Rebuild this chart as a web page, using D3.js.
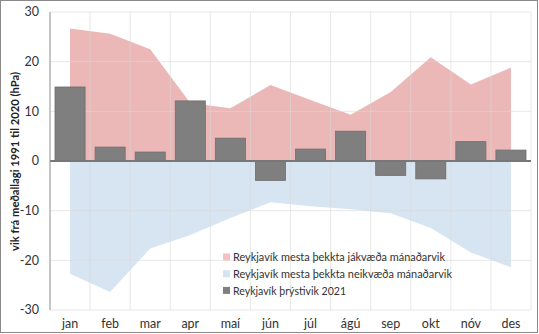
<!DOCTYPE html>
<html><head><meta charset="utf-8">
<script src="https://cdn.jsdelivr.net/npm/d3@7"></script>
<style>body{margin:0;background:#fff}svg{display:block}</style>
</head><body>
<svg id="c" width="539" height="334"></svg>
<script>
const months = ["jan","feb","mar","apr","maí","jún","júl","ágú","sep","okt","nóv","des"];
const posMax = [26.7,25.6,22.5,11.7,10.6,15.3,12.3,9.3,13.9,20.9,15.4,18.8];
const negMin = [-22.7,-26.4,-17.6,-14.9,-11.5,-8.3,-9.1,-9.7,-10.5,-13.5,-18.4,-21.4];
const dev2021 = [14.9,2.8,1.8,12.1,4.6,-3.9,2.4,6.0,-2.9,-3.6,3.9,2.2];
const yTicks = [-30,-20,-10,0,10,20,30];
const legendLabels = ["Reykjavík mesta þekkta jákvæða mánaðarvik","Reykjavík mesta þekkta neikvæða mánaðarvik","Reykjavík þrýstivik 2021"];

const svg = d3.select("#c");
const font = "Lato, 'Open Sans', sans-serif";
const L=50, R=531, T=12, B=310;
const x = d3.scaleBand().domain(months).range([L,R]).paddingInner(0.25).paddingOuter(0.125);
const xc = m => x(m)+x.bandwidth()/2;
const y = d3.scaleLinear().domain([-30,30]).range([B,T]);

function fit(sel, w){
  sel.each(function(){
    const len = this.getComputedTextLength();
    if (len > w) d3.select(this).attr("textLength", w).attr("lengthAdjust","spacingAndGlyphs");
  });
}

svg.append("rect").attr("x",0.5).attr("y",0.5).attr("width",537).attr("height",332).attr("fill","#fff").attr("stroke","#8a8a8a");

const aPos = d3.area().x((d,i)=>xc(months[i])).y0(y(0)).y1(d=>y(d));
svg.append("path").datum(posMax).attr("d",aPos).attr("fill","#e8aaaa").attr("fill-opacity",0.85);
svg.append("path").datum(negMin).attr("d",aPos).attr("fill","#d3e2f1").attr("fill-opacity",0.9);

const g = svg.append("g");
g.selectAll(".h").data(yTicks).join("line").attr("x1",L).attr("x2",R).attr("y1",d=>y(d)).attr("y2",d=>y(d)).attr("stroke","#d9d9d9").attr("stroke-opacity",0.6);
const bounds = months.map(m=>x(m)-x.step()*x.paddingOuter()).concat([R]);
g.selectAll(".v").data(bounds).join("line").attr("x1",d=>d).attr("x2",d=>d).attr("y1",T).attr("y2",B).attr("stroke","#d9d9d9").attr("stroke-opacity",0.6);

svg.selectAll(".bar").data(dev2021).join("rect")
 .attr("x",(d,i)=>x(months[i])).attr("width",x.bandwidth())
 .attr("y",d=>y(Math.max(0,d))).attr("height",d=>Math.abs(y(d)-y(0)))
 .attr("fill","#7f7f7f").attr("stroke","#6e6e6e").attr("stroke-width",0.8);

svg.append("line").attr("x1",L).attr("x2",R).attr("y1",y(0)).attr("y2",y(0)).attr("stroke","#777").attr("stroke-width",2);
svg.append("line").attr("x1",L).attr("x2",L).attr("y1",T).attr("y2",B).attr("stroke","#999").attr("stroke-width",1);

svg.selectAll(".yt").data(yTicks).join("text").attr("x",39).attr("y",d=>y(d)).attr("dy","0.35em")
 .attr("text-anchor","end").attr("font-family",font).attr("font-size",12.5).attr("fill","#333").text(d=>d);
svg.selectAll(".xt").data(months).join("text").attr("x",d=>xc(d)).attr("y",328)
 .attr("text-anchor","middle").attr("font-family",font).attr("font-size",12.5).attr("fill","#333").text(d=>d);
const yt = svg.append("text").attr("transform",`translate(19,161.5) rotate(-90)`).attr("text-anchor","middle")
 .attr("font-family",font).attr("font-size",12).attr("font-weight","bold").attr("fill","#222")
 .text("vik frá meðallagi 1991 til 2020 (hPa)");
fit(yt, 179);

const lc = ["#f4c2c2","#d6e4f2","#7f7f7f"];
const lw = [212,219,113];
const lg = svg.append("g");
legendLabels.forEach((t,i)=>{
  const yy = 257 + i*16.7;
  lg.append("rect").attr("x",223).attr("y",yy-3.5).attr("width",7).attr("height",7).attr("fill",lc[i]);
  const tx = lg.append("text").attr("x",233).attr("y",yy).attr("dy","0.35em").attr("font-family",font).attr("font-size",12).attr("fill","#333").text(t);
  fit(tx, lw[i]);
});
</script>
</body></html>
